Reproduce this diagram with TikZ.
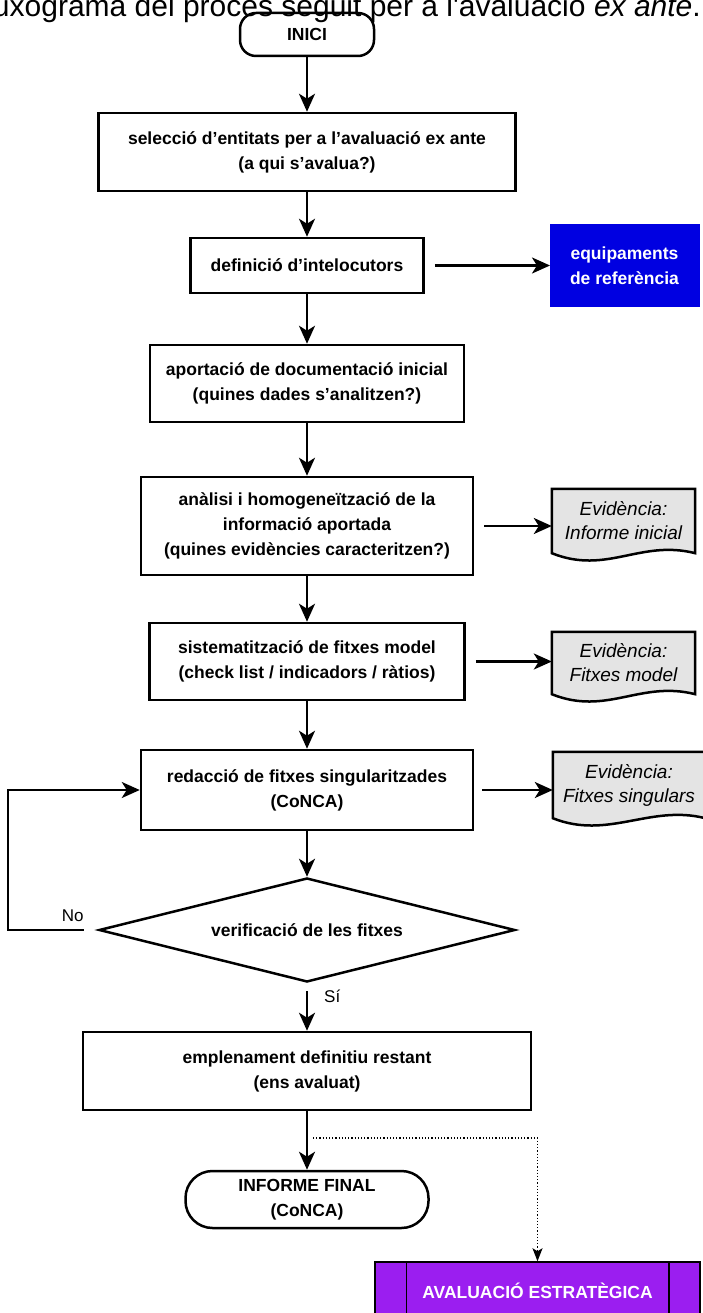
\documentclass[tikz,border=0pt]{standalone}
\usepackage{fontspec}
\setmainfont{Liberation Sans}
\newfontfamily\titlefont{Liberation Sans}
\usepackage{tikz}
\usetikzlibrary{positioning}
\usetikzlibrary{shapes.geometric,arrows.meta,calc}
\usepackage{xcolor}
\definecolor{refblue}{RGB}{0,0,225}
\definecolor{estrpurple}{RGB}{155,30,240}
\definecolor{evidgray}{RGB}{228,228,228}
\pgfkeys{tikz/procbox/.style={draw,line width=2.5pt,align=center,inner sep=0pt,font=\fontsize{17.5}{25}\selectfont\bfseries}}
\pgfkeys{tikz/termbox/.style={procbox,rounded corners=16pt}}
\pgfkeys{tikz/evidbox/.style={align=center,inner sep=0pt,minimum width=143pt,font=\fontsize{19}{24}\selectfont\itshape}}
\pgfkeys{tikz/flow/.style={line width=2.5pt,-{Stealth[length=18pt,width=16pt,inset=5pt]}}}
\pgfkeys{tikz/dotflow/.style={line width=1.2pt,dotted,-{Stealth[length=13pt,width=10pt,inset=3pt]}}}
\pgfkeys{tikz/lbl/.style={inner sep=0pt,font=\fontsize{17}{18}\selectfont}}
\newcommand{\evidshape}[1]{%
  \filldraw[line width=2.5pt,fill=evidgray] (#1.north west) -- (#1.north east) -- (#1.south east)
    .. controls +(-55,-14) and +(55,22) .. (#1.south west) -- cycle;}

\begin{document}
\begin{tikzpicture}[x=1pt,y=-1pt]
	\useasboundingbox (0,0) rectangle (702,1313);

	\node[anchor=base east,inner sep=0pt,font=\titlefont\fontsize{30}{31}\selectfont] (titol) at (701,17) {uxograma del procés seguit per a l'avaluació \textit{ex ante}.};

	\node[termbox,minimum width=134pt,minimum height=43pt] (inici) at (307,34.5) {INICI};
	\node[procbox,minimum width=417pt,minimum height=78pt] (sel) at (307,152) {selecció d'entitats per a l'avaluació ex ante\\(a qui s'avalua?)};
	\node[procbox,minimum width=233pt,minimum height=55pt] (def) at (307,265.5) {definició d'intelocutors};
	\node[procbox,fill=refblue,text=white,minimum width=149pt,minimum height=81pt,line width=0pt,draw=refblue] (ref) at (624.5,265.5) {equipaments\\de referència};
	\node[procbox,minimum width=314pt,minimum height=77pt] (apo) at (307,383.5) {aportació de documentació inicial\\(quines dades s'analitzen?)};
	\node[procbox,minimum width=332pt,minimum height=98pt] (ana) at (307,526) {anàlisi i homogeneïtzació de la\\informació aportada\\(quines evidències caracteritzen?)};
	\node[evidbox,minimum height=64pt] (evi1) at (623.5,521) {};
	\node[procbox,minimum width=315pt,minimum height=77pt] (sis) at (307,661.5) {sistematització de fitxes model\\(check list / indicadors / ràtios)};
	\node[evidbox,minimum height=62pt] (evi2) at (623.5,663) {};
	\node[procbox,minimum width=332pt,minimum height=80pt] (red) at (307,790) {redacció de fitxes singularitzades\\(CoNCA)};
	\node[evidbox,minimum width=152pt,minimum height=66pt] (evi3) at (629,785) {};
	\node[procbox,shape=diamond,aspect=4,minimum width=416pt,minimum height=104pt] (ver) at (307,930) {verificació de les fitxes};
	\node[procbox,minimum width=448pt,minimum height=78pt] (emp) at (307,1071) {emplenament definitiu restant\\(ens avaluat)};
	\node[termbox,rounded corners=27pt,minimum width=243pt,minimum height=57pt] (fin) at (307,1199.5) {INFORME FINAL\\(CoNCA)};
	\node[procbox,fill=estrpurple,text=white,line width=1.5pt,minimum width=325pt,minimum height=58pt] (estr) at (537.5,1291) {AVALUACIÓ ESTRATÈGICA};
	\draw[line width=1.5pt] ($(estr.north west)+(32,0)$) -- ($(estr.south west)+(32,0)$);
	\draw[line width=1.5pt] ($(estr.north east)+(-32,0)$) -- ($(estr.south east)+(-32,0)$);

	\evidshape{evi1}
	\evidshape{evi2}
	\evidshape{evi3}
	\node[evidbox] at (evi1) {Evidència:\\Informe inicial};
	\node[evidbox] at (evi2) {Evidència:\\Fitxes model};
	\node[evidbox,minimum width=152pt] at (evi3) {Evidència:\\Fitxes singulars};

	\draw[flow] (inici) -- (sel);
	\draw[flow] (sel) -- (def);
	\draw[flow] ([xshift=10pt]def.east) -- (ref.west);
	\draw[flow] (def) -- (apo);
	\draw[flow] (apo) -- (ana);
	\draw[flow] ([xshift=10pt]ana.east) -- (ana.east -| evi1.west);
	\draw[flow] (ana) -- (sis);
	\draw[flow] ([xshift=10pt]sis.east) -- (sis.east -| evi2.west);
	\draw[flow] (sis) -- (red);
	\draw[flow] ([xshift=8pt]red.east) -- (red.east -| evi3.west);
	\draw[flow] (red) -- (ver);
	\draw[flow] ([xshift=-14pt]ver.west) -- ++(-76,0) |- (red.west);
	\node[lbl,anchor=south east] (no) at ([xshift=-14pt,yshift=8pt]ver.west) {No};
	\draw[flow] ([yshift=-8pt]ver.south) -- (emp);
	\node[lbl,anchor=west] (si) at ([xshift=17pt,yshift=-13pt]ver.south) {Sí};
	\draw[flow] (emp) -- (fin);
	\coordinate (branca) at (313,1138);
	\draw[dotflow] (branca) -| (estr.north);
\end{tikzpicture}
\end{document}
